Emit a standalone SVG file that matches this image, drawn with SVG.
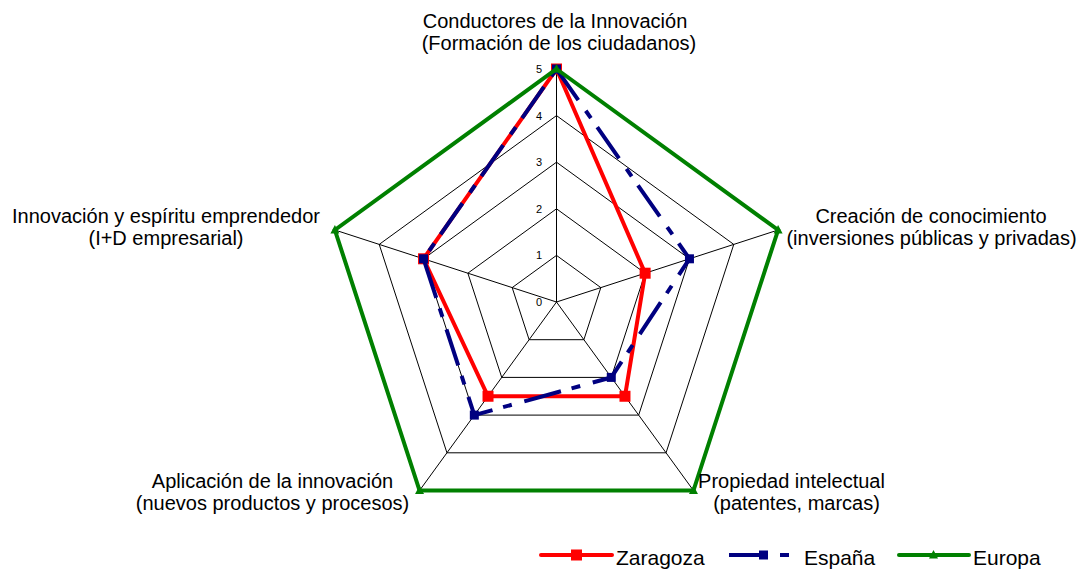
<svg xmlns="http://www.w3.org/2000/svg" width="1082" height="569" viewBox="0 0 1082 569">
<style>
text{font-family:"Liberation Sans",Arial,sans-serif;fill:#000}
.lab{font-size:20px;text-anchor:middle}
.leg{font-size:21px}
.tick{font-size:11px;text-anchor:middle}
.grid{fill:none;stroke:#000;stroke-width:1}
.zar{fill:none;stroke:#ff0000;stroke-width:4;stroke-linejoin:miter}
.esp{fill:none;stroke:#000080;stroke-width:4;stroke-dasharray:38 13 9 11}
.eur{fill:none;stroke:#008000;stroke-width:4;stroke-linejoin:miter}
.mz{fill:#ff0000}
.me{fill:#000080}
.mu{fill:#008000}
</style>
<defs>
<rect id="sqZ" x="-5.5" y="-5.5" width="11" height="11" class="mz"/>
<rect id="sqE" x="-4.5" y="-4.5" width="9" height="9" class="me"/>
<path id="tri" d="M0,-5 L4.5,3.5 L-4.5,3.5 Z" class="mu"/>
</defs>
<rect width="1082" height="569" fill="#fff"/>
<g id="grid">
<polygon class="grid" points="556.5,255.4 600.82,287.6 583.89,339.7 529.11,339.7 512.18,287.6"/>
<polygon class="grid" points="556.5,208.8 645.14,273.2 611.28,377.4 501.72,377.4 467.86,273.2"/>
<polygon class="grid" points="556.5,162.2 689.46,258.8 638.67,415.1 474.33,415.1 423.54,258.8"/>
<polygon class="grid" points="556.5,115.6 733.78,244.4 666.06,452.8 446.94,452.8 379.22,244.4"/>
<polygon class="grid" points="556.5,69 778.1,230 693.45,490.5 419.55,490.5 334.9,230"/>
<path class="grid" d="M556.5,302 L556.5,69 M556.5,302 L778.1,230 M556.5,302 L693.45,490.5 M556.5,302 L419.55,490.5 M556.5,302 L334.9,230"/>
<text class="tick" x="539" y="306">0</text>
<text class="tick" x="539" y="259.4">1</text>
<text class="tick" x="539" y="212.8">2</text>
<text class="tick" x="539" y="166.2">3</text>
<text class="tick" x="539" y="119.6">4</text>
<text class="tick" x="539" y="73">5</text>
</g>
<g id="connectors">
<g id="zaragoza">
<polygon class="zar" points="556.5,69 645.14,273.2 624.98,396.25 488.02,396.25 423.54,258.8"/>
<use href="#sqZ" x="556.5" y="69"/>
<use href="#sqZ" x="645.14" y="273.2"/>
<use href="#sqZ" x="624.98" y="396.25"/>
<use href="#sqZ" x="488.02" y="396.25"/>
<use href="#sqZ" x="423.54" y="258.8"/>
</g>
<g id="espana">
<polygon class="esp" points="556.5,69 689.46,258.8 611.28,377.4 474.33,415.1 423.54,258.8"/>
<use href="#sqE" x="556.5" y="69"/>
<use href="#sqE" x="689.46" y="258.8"/>
<use href="#sqE" x="611.28" y="377.4"/>
<use href="#sqE" x="474.33" y="415.1"/>
<use href="#sqE" x="423.54" y="258.8"/>
</g>
<g id="europa">
<polygon class="eur" points="556.5,69 778.1,230 693.45,490.5 419.55,490.5 334.9,230"/>
<use href="#tri" x="556.5" y="69"/>
<use href="#tri" x="778.1" y="230"/>
<use href="#tri" x="693.45" y="490.5"/>
<use href="#tri" x="419.55" y="490.5"/>
<use href="#tri" x="334.9" y="230"/>
</g>
</g>
<g id="axis-top">
<text class="lab" x="555" y="28">Conductores de la Innovación</text>
<text class="lab" x="559" y="50">(Formación de los ciudadanos)</text>
</g>
<g id="axis-right">
<text class="lab" x="931" y="223">Creación de conocimiento</text>
<text class="lab" x="931.5" y="245">(inversiones públicas y privadas)</text>
</g>
<g id="axis-left">
<text class="lab" x="166" y="223">Innovación y espíritu emprendedor</text>
<text class="lab" x="166" y="245">(I+D empresarial)</text>
</g>
<g id="axis-bl">
<text class="lab" x="272.5" y="488">Aplicación de la innovación</text>
<text class="lab" x="272.5" y="510">(nuevos productos y procesos)</text>
</g>
<g id="axis-br">
<text class="lab" x="791.5" y="488">Propiedad intelectual</text>
<text class="lab" x="796.5" y="510">(patentes, marcas)</text>
</g>
<g id="legend">
<line x1="541" y1="555" x2="612" y2="555" stroke="#ff0000" stroke-width="4" stroke-linecap="round"/>
<use href="#sqZ" x="576.5" y="555"/>
<text class="leg" x="616" y="565">Zaragoza</text>
<line x1="729" y1="555" x2="800" y2="555" class="esp"/>
<use href="#sqE" x="763.5" y="555"/>
<text class="leg" x="804" y="565">España</text>
<line x1="899" y1="555" x2="969" y2="555" stroke="#008000" stroke-width="4" stroke-linecap="round"/>
<use href="#tri" x="933.5" y="555"/>
<text class="leg" x="973" y="565">Europa</text>
</g>
</svg>
